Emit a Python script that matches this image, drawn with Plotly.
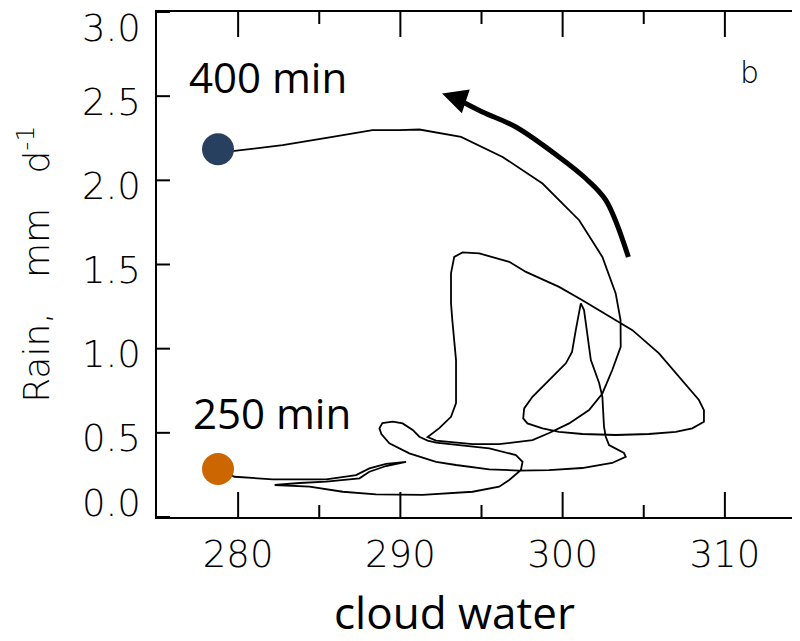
import plotly.graph_objects as go

# trajectory from 250 min to 400 min: cloud water vs rain (mm/d)
traj_x = [278.76, 279.78, 282.12, 285.43, 287.27, 288.09, 289.12, 290.35,
          289.12, 288.09, 287.48, 285.43, 283.78, 282.25,
          284.40, 286.45, 288.50, 291.37, 294.45, 296.09, 296.71, 297.43, 297.53, 297.12, 295.48,
          294.25, 292.20, 291.68, 291.17, 290.76, 290.14, 289.53, 288.89, 288.71, 288.83,
          289.32, 290.55, 292.20, 293.43, 295.48, 297.32, 299.17, 301.20, 303.05, 303.89,
          303.78, 302.86, 302.66, 302.55, 302.45, 302.25, 301.74, 301.51, 301.32, 301.12,
          300.91, 300.81, 300.58, 300.20, 299.78, 298.14, 297.63, 297.57, 297.83, 298.76,
          299.78, 301.22, 303.27, 305.32, 306.97, 307.99, 308.71, 308.71, 308.40, 307.37,
          305.94, 304.30, 302.25, 301.22, 299.78, 297.74, 296.71, 294.86, 293.83, 293.32,
          293.12, 293.12, 293.20, 293.43, 293.43, 293.12, 292.40, 291.68,
          292.20, 294.45, 296.09, 298.14, 299.17, 300.40, 301.63, 302.45, 303.06, 303.58,
          303.57, 303.27, 302.45, 301.02, 298.76, 296.30, 293.74, 291.17, 289.94, 288.28,
          285.82, 282.74, 279.78, 278.76]
traj_y = [0.285, 0.239, 0.224, 0.224, 0.249, 0.289, 0.315, 0.328,
          0.303, 0.269, 0.230, 0.210, 0.202, 0.190,
          0.180, 0.150, 0.135, 0.131, 0.150, 0.180, 0.220, 0.279, 0.328, 0.368, 0.408,
          0.422, 0.442, 0.454, 0.477, 0.517, 0.556, 0.566, 0.558, 0.527, 0.493,
          0.438, 0.378, 0.328, 0.309, 0.283, 0.276, 0.279, 0.291, 0.321, 0.358,
          0.380, 0.427, 0.477, 0.536, 0.714, 0.796, 0.932, 1.110, 1.229, 1.269,
          1.170, 1.110, 0.981, 0.913, 0.873, 0.714, 0.645, 0.586, 0.556, 0.527,
          0.506, 0.493, 0.487, 0.493, 0.506, 0.527, 0.566, 0.635, 0.695, 0.813,
          0.972, 1.110, 1.229, 1.288, 1.367, 1.456, 1.516, 1.566, 1.572, 1.545,
          1.447, 1.271, 1.170, 0.932, 0.677, 0.595, 0.528, 0.475,
          0.454, 0.433, 0.433, 0.457, 0.499, 0.556, 0.635, 0.734, 0.873, 1.011,
          1.170, 1.328, 1.545, 1.763, 1.981, 2.139, 2.258, 2.302, 2.298, 2.298,
          2.258, 2.209, 2.175, 2.185]

# curved arrow showing direction of time (last point = tip)
arrow_x = [304.05, 302.66, 301.43, 299.78, 297.12, 295.06, 293.32, 292.57]
arrow_y = [1.545, 1.882, 2.011, 2.139, 2.317, 2.406, 2.492, 2.516]

start_x, start_y = 278.76, 0.285   # 250 min
end_x, end_y = 278.76, 2.185       # 400 min

x_range = [275, 315]
y_range = [0, 3]
xtick_vals = [280, 290, 300, 310]
xtick_minor = [285, 295, 305]
ytick_vals = [0.0, 0.5, 1.0, 1.5, 2.0, 2.5, 3.0]
ytick_text = ["0.0", "0.5", "1.0", "1.5", "2.0", "2.5", "3.0"]
ytick_shift = [14, -6, -6, -6, -6, -6, -16]

light = dict(family="DejaVu Sans", size=37, color="black", weight=200)
calib = dict(family="Open Sans", size=42, color="black")

# inward tick marks on all four sides, built as one broken line
px_x = (x_range[1] - x_range[0]) / 651.0
px_y = (y_range[1] - y_range[0]) / 505.0
tick_x, tick_y = [], []
for v, ln in [(v, 25) for v in xtick_vals] + [(v, 12) for v in xtick_minor]:
    tick_x += [v, v, None, v, v, None]
    tick_y += [y_range[0], y_range[0] + ln * px_y, None,
               y_range[1], y_range[1] - ln * px_y, None]
for v in ytick_vals:
    tick_x += [x_range[0], x_range[0] + 13 * px_x, None,
               x_range[1], x_range[1] - 13 * px_x, None]
    tick_y += [v, v, None, v, v, None]

fig = go.Figure()
fig.add_trace(go.Scatter(x=tick_x, y=tick_y, mode="lines", cliponaxis=False,
                         line=dict(color="black", width=2), showlegend=False))
fig.add_trace(go.Scatter(x=traj_x, y=traj_y, mode="lines",
                         line=dict(color="black", width=1.8), showlegend=False))
fig.add_trace(go.Scatter(x=arrow_x[:-1], y=arrow_y[:-1], mode="lines",
                         line=dict(color="black", width=5, shape="spline"),
                         showlegend=False))
fig.add_trace(go.Scatter(x=[start_x], y=[start_y], mode="markers",
                         marker=dict(size=32, color="#CC6600"), showlegend=False))
fig.add_trace(go.Scatter(x=[end_x], y=[end_y], mode="markers",
                         marker=dict(size=32, color="#27405F"), showlegend=False))

fig.update_xaxes(range=x_range, tickmode="array", tickvals=xtick_vals,
                 ticks="", tickfont=light, ticklabelstandoff=4,
                 showline=True, linecolor="black", linewidth=2, mirror=True,
                 showgrid=False, zeroline=False)
fig.update_yaxes(range=y_range, tickmode="array", tickvals=ytick_vals,
                 ticks="", showticklabels=False,
                 showline=True, linecolor="black", linewidth=2, mirror=True,
                 showgrid=False, zeroline=False)

annotations = []
for v, t, s in zip(ytick_vals, ytick_text, ytick_shift):
    annotations.append(dict(x=0, xref="paper", y=v, yref="y", text=t, showarrow=False,
                            xanchor="right", yanchor="middle", xshift=-14, yshift=s,
                            font=light))
annotations += [
    # arrow head at the end of the thick curved arrow
    dict(x=arrow_x[-1], y=arrow_y[-1], xref="x", yref="y",
         ax=arrow_x[-2], ay=arrow_y[-2], axref="x", ayref="y",
         text="", showarrow=True, arrowhead=2, arrowsize=1, arrowwidth=5,
         arrowcolor="black", standoff=0),
    dict(x=-0.1905, xref="paper", y=0.5, yref="paper", textangle=-90, showarrow=False,
         xanchor="center", yanchor="middle",
         text="Rain,\u00a0\u00a0\u00a0mm\u00a0\u00a0\u00a0d<sup>-1</sup>",
         font=dict(family="DejaVu Sans", size=36, color="black", weight=200)),
    dict(x=0.4578, xref="paper", y=-0.188, yref="paper", text="cloud water",
         xanchor="center", yanchor="middle", showarrow=False,
         font=dict(family="Open Sans", size=44, color="black")),
    dict(x=0.1716, xref="paper", y=0.872, yref="paper", text="400 min",
         xanchor="center", yanchor="middle", showarrow=False, font=calib),
    dict(x=0.1774, xref="paper", y=0.206, yref="paper", text="250 min",
         xanchor="center", yanchor="middle", showarrow=False, font=calib),
    dict(x=0.9135, xref="paper", y=0.881, yref="paper", text="b",
         xanchor="center", yanchor="middle", showarrow=False,
         font=dict(family="DejaVu Sans", size=30, color="#000000", weight=200)),
]

fig.update_layout(width=800, height=641,
                  margin=dict(l=149, r=0, t=4, b=132),
                  plot_bgcolor="white", paper_bgcolor="white",
                  annotations=annotations, showlegend=False)

fig.write_html("out.html")
